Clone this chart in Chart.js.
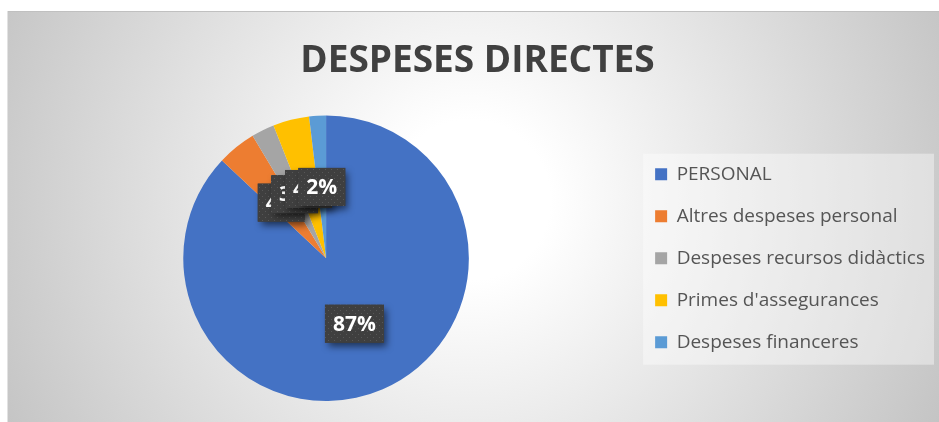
<!DOCTYPE html>
<html>
<head>
<meta charset="utf-8">
<script src="https://cdn.jsdelivr.net/npm/chart.js@4.4.1/dist/chart.umd.min.js"></script>
<style>
  html, body { margin: 0; padding: 0; background: #ffffff; }
  #wrap { width: 939px; height: 422px; }
</style>
</head>
<body>
<div id="wrap"><canvas id="c" width="939" height="422"></canvas></div>
<script>
const chartTitle = 'DESPESES DIRECTES';
const categories = ['PERSONAL', 'Altres despeses personal', 'Despeses recursos didàctics', "Primes d'assegurances", 'Despeses financeres'];
const values = [87.0, 4.4, 2.6, 4.1, 1.9];
const sliceColors = ['#4472C4', '#ED7D31', '#A5A5A5', '#FFC000', '#5B9BD5'];

const FONT = '"Open Sans", "Liberation Sans", sans-serif';

const bgPlugin = {
  id: 'bg',
  beforeDraw(chart) {
    const ctx = chart.ctx;
    ctx.save();
    const g = ctx.createRadialGradient(470, 200, 80, 470, 200, 520);
    g.addColorStop(0, '#ffffff');
    g.addColorStop(1, '#c4c4c4');
    ctx.fillStyle = g;
    ctx.fillRect(7, 11, 932, 411);
    ctx.strokeStyle = '#c0c0c0';
    ctx.lineWidth = 1;
    ctx.beginPath();
    ctx.moveTo(7, 11.5); ctx.lineTo(939, 11.5);
    ctx.stroke();
    ctx.strokeStyle = '#e2e2e2';
    ctx.beginPath();
    ctx.moveTo(7.5, 11); ctx.lineTo(7.5, 422);
    ctx.stroke();
    const lg = chart.legend;
    if (lg && lg.legendHitBoxes && lg.legendHitBoxes.length) {
      const hb = lg.legendHitBoxes;
      const top = hb[0].top - 11;
      const bottom = hb[hb.length - 1].top + hb[hb.length - 1].height + 13;
      const left = hb[0].left - 12;
      ctx.fillStyle = 'rgba(255,255,255,0.4)';
      ctx.fillRect(left, top, 934 - left, bottom - top);
    }
    ctx.restore();
  }
};

function makePattern(ctx) {
  const pc = document.createElement('canvas');
  pc.width = 6; pc.height = 6;
  const p = pc.getContext('2d');
  p.fillStyle = '#3f3f3f';
  p.fillRect(0, 0, 6, 6);
  p.fillStyle = '#575757';
  p.fillRect(1, 1, 1, 1);
  p.fillRect(4, 4, 1, 1);
  return ctx.createPattern(pc, 'repeat');
}

const labelPlugin = {
  id: 'pctLabels',
  afterDatasetsDraw(chart) {
    const ctx = chart.ctx;
    const meta = chart.getDatasetMeta(0);
    const data = chart.data.datasets[0].data;
    const total = data.reduce((a, b) => a + b, 0);
    const pattern = makePattern(ctx);
    ctx.save();
    ctx.font = 'bold 21px ' + FONT;
    meta.data.forEach((arc, i) => {
      const pos = arc.tooltipPosition();
      const txt = Math.round(data[i] / total * 100) + '%';
      const w = ctx.measureText(txt).width + 16;
      const h = 38;
      const x = pos.x - w / 2, y = pos.y - h / 2;
      ctx.save();
      ctx.shadowColor = 'rgba(0,0,0,0.55)';
      ctx.shadowBlur = 7;
      ctx.shadowOffsetX = 3;
      ctx.shadowOffsetY = 4;
      ctx.fillStyle = '#3f3f3f';
      ctx.fillRect(x, y, w, h);
      ctx.restore();
      ctx.fillStyle = pattern;
      ctx.fillRect(x, y, w, h);
      ctx.fillStyle = '#ffffff';
      ctx.textAlign = 'center';
      ctx.textBaseline = 'middle';
      ctx.fillText(txt, pos.x, pos.y + 1);
    });
    ctx.restore();
  }
};

new Chart(document.getElementById('c'), {
  type: 'pie',
  data: {
    labels: categories,
    datasets: [{
      data: values,
      backgroundColor: sliceColors,
      borderWidth: 0
    }]
  },
  options: {
    responsive: false,
    animation: false,
    devicePixelRatio: 1,
    layout: { padding: { left: 20, right: 4, top: 0, bottom: 21 } },
    plugins: {
      title: {
        display: true,
        text: chartTitle,
        color: '#404040',
        font: { family: FONT, size: 37, weight: 'bold', lineHeight: 1.2 },
        padding: { top: 39, bottom: 32 }
      },
      legend: {
        position: 'right',
        fullSize: false,
        align: 'center',
        labels: {
          boxWidth: 12,
          boxHeight: 12,
          padding: 23,
          color: '#555555',
          font: { family: FONT, size: 19 }
        }
      },
      tooltip: { enabled: false }
    }
  },
  plugins: [bgPlugin, labelPlugin]
});
</script>
</body>
</html>
